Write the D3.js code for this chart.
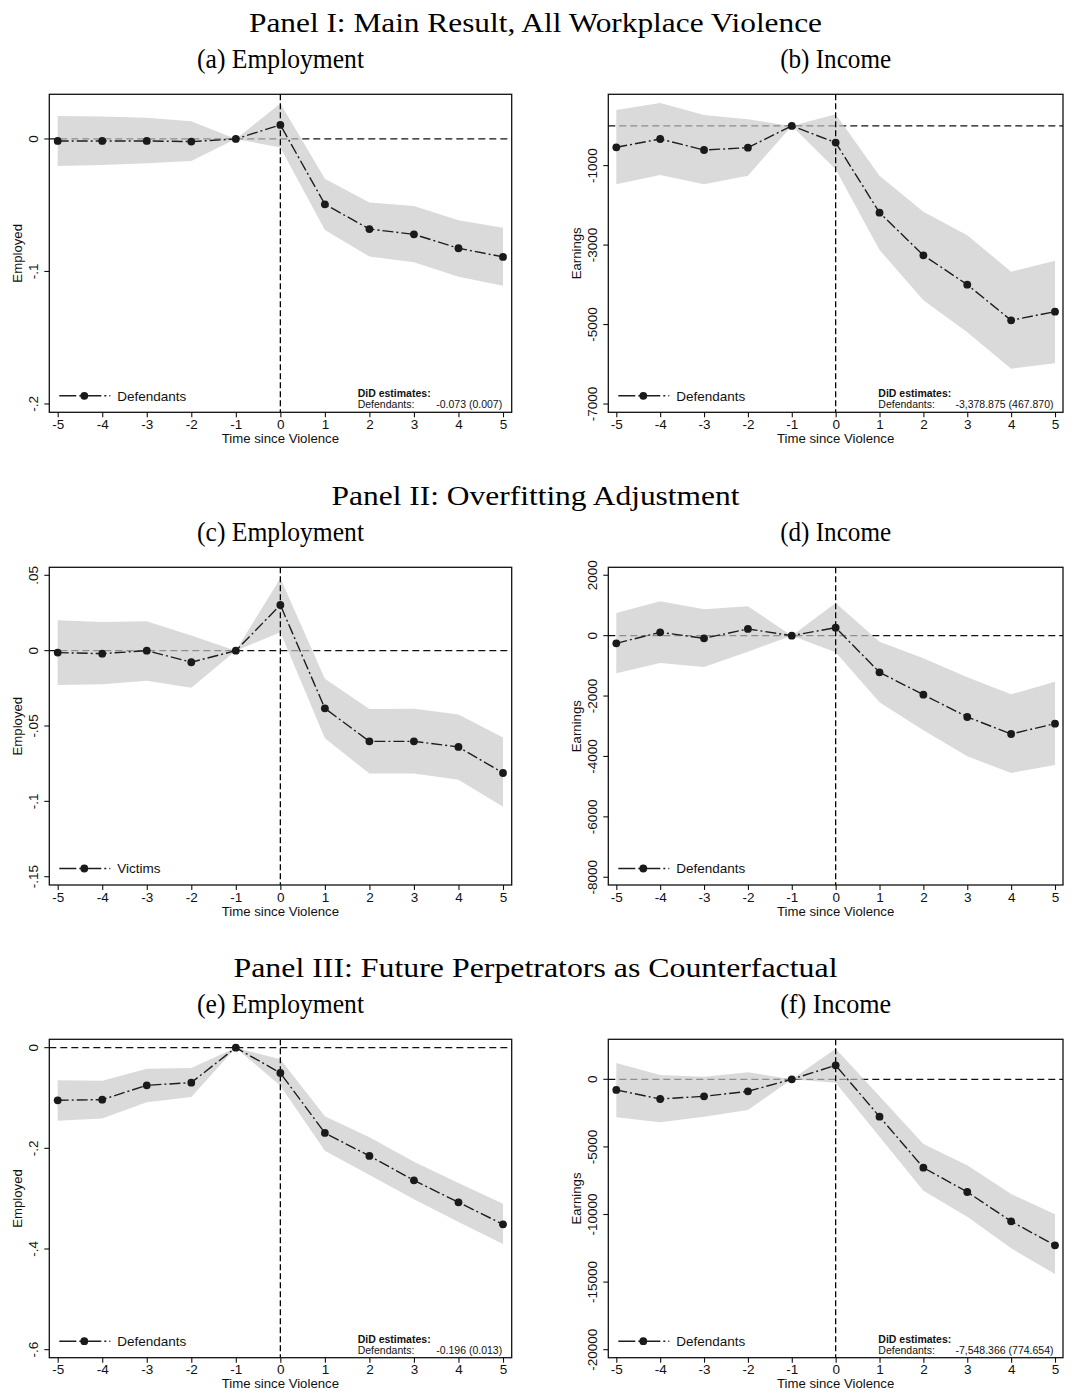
<!DOCTYPE html>
<html><head><meta charset="utf-8">
<script src="https://cdn.jsdelivr.net/npm/d3@7"></script>
<style>body{margin:0;background:#fff} svg{display:block}</style>
</head><body><svg id="c" width="1071" height="1392"></svg>
<script>
// ---- data ----
const periods = [-5,-4,-3,-2,-1,0,1,2,3,4,5];
const xTickLabels = ["-5","-4","-3","-2","-1","0","1","2","3","4","5"];

// (a) Employment, main result
const aEst = [-0.0015,-0.0015,-0.0015,-0.002,0,0.0106,-0.0493,-0.068,-0.072,-0.0825,-0.089];
const aHi  = [0.0174,0.0169,0.016,0.0133,0,0.0267,-0.030,-0.048,-0.0506,-0.0614,-0.067];
const aLo  = [-0.0204,-0.0196,-0.0184,-0.0166,0,-0.0065,-0.0687,-0.0888,-0.093,-0.104,-0.1107];
const aTicks = [0,-0.1,-0.2];
const aTickLabels = ["0","-.1","-.2"];

// (b) Income, main result
const bEst = [-539,-330,-607,-548,0,-421,-2183,-3257,-3995,-4893,-4675];
const bHi  = [401,577,275,166,0,292,-1252,-2158,-2754,-3668,-3391];
const bLo  = [-1471,-1235,-1471,-1252,0,-1092,-3122,-4389,-5195,-6109,-5975];
const bTicks = [-1000,-3000,-5000,-7000];
const bTickLabels = ["-1000","-3000","-5000","-7000"];

// (c) Employment, overfitting adjustment
const cEst = [-0.0013,-0.002,0,-0.0077,0,0.0303,-0.0383,-0.0602,-0.0602,-0.0639,-0.0812];
const cHi  = [0.0201,0.019,0.0195,0.010,0,0.048,-0.0186,-0.0387,-0.0385,-0.0423,-0.0577];
const cLo  = [-0.0228,-0.0223,-0.0199,-0.0246,0,0.0122,-0.0582,-0.0816,-0.0816,-0.0856,-0.1035];
const cTicks = [0.05,0,-0.05,-0.1,-0.15];
const cTickLabels = [".05","0","-.05","-.1","-.15"];

// (d) Income, overfitting adjustment
const dEst = [-254,110,-88,221,0,265,-1214,-1954,-2693,-3256,-2914];
const dHi  = [751,1137,872,971,0,1082,-199,-751,-1380,-1943,-1523];
const dLo  = [-1247,-905,-1038,-530,0,-552,-2208,-3135,-3996,-4547,-4283];
const dTicks = [2000,0,-2000,-4000,-6000,-8000];
const dTickLabels = ["2000","0","-2000","-4000","-6000","-8000"];

// (e) Employment, future perpetrators
const eEst = [-0.1046,-0.1033,-0.0748,-0.0695,0,-0.0503,-0.1695,-0.2152,-0.2636,-0.3073,-0.351];
const eHi  = [-0.0649,-0.0656,-0.0417,-0.0404,0,-0.0232,-0.1364,-0.178,-0.2265,-0.2689,-0.31];
const eLo  = [-0.145,-0.141,-0.1086,-0.098,0,-0.0755,-0.2046,-0.253,-0.3013,-0.3464,-0.39];
const eTicks = [0,-0.2,-0.4,-0.6];
const eTickLabels = ["0","-.2","-.4","-.6"];

// (f) Income, future perpetrators
const fEst = [-789,-1455,-1258,-888,0,1036,-2762,-6535,-8335,-10506,-12281];
const fHi  = [1208,321,197,518,0,2269,-1258,-4784,-6363,-8483,-9988];
const fLo  = [-2811,-3181,-2762,-2269,0,-247,-4242,-8237,-10160,-12503,-14402];
const fTicks = [0,-5000,-10000,-15000,-20000];
const fTickLabels = ["0","-5000","-10000","-15000","-20000"];

const panelTitles = ["Panel I: Main Result, All Workplace Violence","Panel II: Overfitting Adjustment","Panel III: Future Perpetrators as Counterfactual"];
const subTitles = ["(a) Employment","(b) Income","(c) Employment","(d) Income","(e) Employment","(f) Income"];
const yTitles = ["Employed","Earnings","Employed","Earnings","Employed","Earnings"];
const legendLabels = ["Defendants","Defendants","Victims","Defendants","Defendants","Defendants"];
const didValues = ["-0.073 (0.007)","-3,378.875 (467.870)",null,null,"-0.196 (0.013)","-7,548.366 (774.654)"];

// ---- layout ----
const cols = [{left:49.3,right:511.7,x0:57.7,x1:503},{left:608.3,right:1063,x0:616.3,x1:1055}];
const rows = [{top:94.3,bottom:412.3},{top:567.3,bottom:885},{top:1039.3,bottom:1357.7}];
const titleW = [573,408,604];
const subW = [167,111];

const panels = [
  {est:aEst,lo:aLo,hi:aHi,dom:[-0.2063,0.0337],ticks:aTicks,labels:aTickLabels,didX:357.7},
  {est:bEst,lo:bLo,hi:bHi,dom:[-7208,795],ticks:bTicks,labels:bTickLabels,didX:878.3},
  {est:cEst,lo:cLo,hi:cHi,dom:[-0.1555,0.0553],ticks:cTicks,labels:cTickLabels},
  {est:dEst,lo:dLo,hi:dHi,dom:[-8256,2263],ticks:dTicks,labels:dTickLabels},
  {est:eEst,lo:eLo,hi:eHi,dom:[-0.616,0.0166],ticks:eTicks,labels:eTickLabels,didX:357.7},
  {est:fEst,lo:fLo,hi:fHi,dom:[-20592,2959],ticks:fTicks,labels:fTickLabels,didX:878.3}
];

const svg = d3.select("#c");
const serif = "'Liberation Serif','Times New Roman',serif";
const sans = "'Liberation Sans',Arial,Helvetica,sans-serif";

// panel titles
rows.forEach((r,i)=>{
  svg.append("text").attr("x",535.5).attr("y",r.top-62.6)
    .attr("text-anchor","middle").attr("font-family",serif).attr("font-size",28)
    .attr("textLength",titleW[i]).attr("lengthAdjust","spacingAndGlyphs")
    .attr("fill","#000").text(panelTitles[i]);
});

panels.forEach((p,i)=>{
  const c = cols[i%2], r = rows[Math.floor(i/2)];
  const g = svg.append("g");
  const x = d3.scaleLinear().domain([-5,5]).range([c.x0,c.x1]);
  const y = d3.scaleLinear().domain(p.dom).range([r.bottom,r.top]);

  // subtitle
  g.append("text").attr("x",(c.left+c.right)/2).attr("y",r.top-26.3)
    .attr("text-anchor","middle").attr("font-family",serif).attr("font-size",27.5)
    .attr("textLength",subW[i%2]).attr("lengthAdjust","spacingAndGlyphs")
    .text(subTitles[i]);

  const clipId = "clip"+i;
  svg.append("clipPath").attr("id",clipId).append("rect")
    .attr("x",c.left).attr("y",r.top).attr("width",c.right-c.left).attr("height",r.bottom-r.top);
  const plot = g.append("g").attr("clip-path",`url(#${clipId})`);

  // y=0 reference line
  plot.append("line").attr("x1",c.left).attr("x2",c.right).attr("y1",y(0)).attr("y2",y(0))
    .attr("stroke","#111").attr("stroke-width",1.3).attr("stroke-dasharray","7,4");

  // CI band
  const data = periods.map((t,k)=>({t,est:p.est[k],lo:p.lo[k],hi:p.hi[k]}));
  plot.append("path").datum(data)
    .attr("d",d3.area().x(d=>x(d.t)).y0(d=>y(d.lo)).y1(d=>y(d.hi)))
    .attr("fill","#c8c8c8").attr("fill-opacity",0.68);

  // x=0 reference line
  plot.append("line").attr("x1",x(0)).attr("x2",x(0)).attr("y1",r.top).attr("y2",r.bottom)
    .attr("stroke","#000").attr("stroke-width",1.3).attr("stroke-dasharray","6,3");

  // series line
  plot.append("path").datum(data)
    .attr("d",d3.line().x(d=>x(d.t)).y(d=>y(d.est)))
    .attr("fill","none").attr("stroke","#1e1e1e").attr("stroke-width",1.4)
    .attr("stroke-dasharray","11,3,2,3");
  plot.selectAll("circle.pt").data(data).join("circle").attr("class","pt")
    .attr("cx",d=>x(d.t)).attr("cy",d=>y(d.est)).attr("r",3.9).attr("fill","#1a1a1a");

  // frame
  g.append("rect").attr("x",c.left).attr("y",r.top).attr("width",c.right-c.left).attr("height",r.bottom-r.top)
    .attr("fill","none").attr("stroke","#111").attr("stroke-width",1.3);

  // x axis
  const xAxis = d3.axisBottom(x).tickValues(periods).tickFormat((d,k)=>xTickLabels[k]).tickSize(5).tickPadding(2);
  const xg = g.append("g").attr("transform",`translate(0,${r.bottom})`).call(xAxis);
  xg.select(".domain").remove();
  xg.selectAll("line").attr("stroke","#111").attr("stroke-width",1.1);
  xg.selectAll("text").attr("font-family",sans).attr("font-size",13.5).attr("fill","#111");
  g.append("text").attr("x",x(0)).attr("y",r.bottom+30.5).attr("text-anchor","middle")
    .attr("font-family",sans).attr("font-size",13.2).attr("fill","#111").text("Time since Violence");

  // y axis
  const yAxis = d3.axisLeft(y).tickValues(p.ticks).tickFormat((d,k)=>p.labels[k]).tickSize(5).tickPadding(0);
  const yg = g.append("g").attr("transform",`translate(${c.left},0)`).call(yAxis);
  yg.select(".domain").remove();
  yg.selectAll(".tick").attr("transform",null);
  yg.selectAll(".tick line").attr("y1",d=>y(d)).attr("y2",d=>y(d))
    .attr("stroke","#111").attr("stroke-width",1.1);
  yg.selectAll(".tick text").attr("font-family",sans).attr("font-size",13.5).attr("fill","#111")
    .attr("text-anchor","middle").attr("dy",null).attr("x",0).attr("y",0)
    .attr("transform",d=>`translate(-11,${y(d)}) rotate(-90)`);
  g.append("text").attr("transform",`translate(${c.left-27},${(r.top+r.bottom)/2}) rotate(-90)`)
    .attr("text-anchor","middle").attr("font-family",sans).attr("font-size",13.2).attr("fill","#111").text(yTitles[i]);

  // legend
  const ly = r.bottom-16.5;
  g.append("line").attr("x1",c.left+10).attr("x2",c.left+61).attr("y1",ly).attr("y2",ly)
    .attr("stroke","#1e1e1e").attr("stroke-width",1.4).attr("stroke-dasharray","17,3,2,3");
  g.append("circle").attr("cx",c.left+35).attr("cy",ly).attr("r",3.9).attr("fill","#1a1a1a");
  g.append("text").attr("x",c.left+68).attr("y",ly).attr("dy","0.36em")
    .attr("font-family",sans).attr("font-size",13.5).attr("fill","#111").text(legendLabels[i]);

  // DiD box
  if (didValues[i]) {
    g.append("text").attr("x",p.didX).attr("y",r.bottom-15).attr("font-family",sans).attr("font-size",10.5)
      .attr("font-weight","bold").attr("fill","#111").text("DiD estimates:");
    g.append("text").attr("x",p.didX).attr("y",r.bottom-4).attr("font-family",sans).attr("font-size",10.5)
      .attr("fill","#111").text("Defendants:");
    g.append("text").attr("x",c.right-9.5).attr("y",r.bottom-4).attr("text-anchor","end").attr("font-family",sans).attr("font-size",10.5)
      .attr("fill","#111").text(didValues[i]);
  }
});
</script></body></html>
